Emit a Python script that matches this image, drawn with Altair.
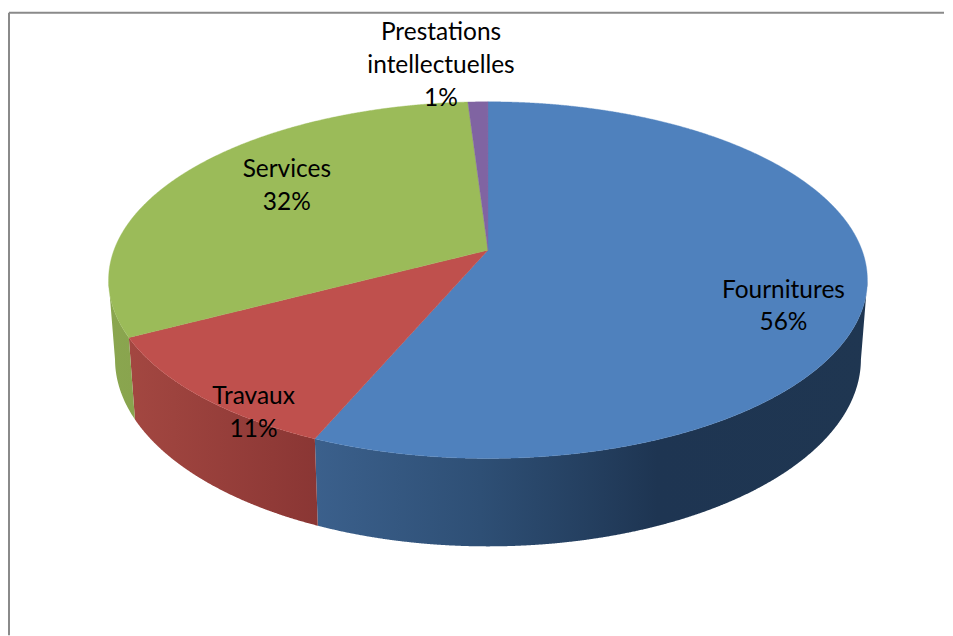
import math
import altair as alt
import pandas as pd

CATEGORIES = ["Fournitures", "Travaux", "Services", "Prestations\nintellectuelles"]
SHARES = [56.4, 10.9, 31.7, 1.0]
SHOWN = ["56%", "11%", "32%", "1%"]
TOP_COLOURS = ["#4f81bd", "#bf504d", "#9bbb59", "#8064a2"]
WALL_STOPS = [
    [(0, "#3b608c"), (0.3, "#2e4f75"), (0.62, "#1e3552"), (1, "#1f3651")],
    [(0, "#a34741"), (1, "#8a3634")],
    [(0, "#8aa64f"), (1, "#89a44e")],
]

# view geometry of the tilted pie (page pixels are used as the scale domain)
CX, CY, RX, RY, APEX, PERSP = 488, 280.5, 374.8, 178.8, -30.5, -0.168
BOTTOM_SX, BOTTOM_SY, BOTTOM_DY = 0.983, 1.05, 79.2
LABEL_R = [0.785, 0.83, 0.65, 1.0]
LABEL_DX = [0, 0, 0, -37]
LABEL_DY = [12.5, 29.5, -27.5, -68.5]
FRAME_LEFT, FRAME_TOP = 8, 12
VIEW_W, VIEW_H = 937, 628


def project(theta, bottom=False):
    u, v = math.sin(math.radians(theta)), -math.cos(math.radians(theta))
    w = 1 + PERSP * v
    x = RX * u / w
    y = (RY * v + APEX) / w
    if bottom:
        return CX + x * BOTTOM_SX, CY + y * BOTTOM_SY + BOTTOM_DY
    return CX + x, CY + y


def arc(a, b, bottom=False):
    n = max(2, int(abs(b - a) * 2))
    return [project(a + (b - a) * i / n, bottom=bottom) for i in range(n + 1)]


def scan(poly):
    """Turn a polygon into x / y / y2 rows for an area mark."""
    lo = min(p[0] for p in poly)
    hi = max(p[0] for p in poly)
    xs = sorted({p[0] for p in poly} | {lo + i for i in range(int(hi - lo) + 1)})
    rows = []
    for x in xs:
        ys = []
        for (x1, y1), (x2, y2) in zip(poly, poly[1:] + poly[:1]):
            if min(x1, x2) <= x <= max(x1, x2):
                if x1 == x2:
                    ys += [y1, y2]
                else:
                    ys.append(y1 + (y2 - y1) * (x - x1) / (x2 - x1))
        if ys:
            rows.append({"x": x, "y": min(ys), "y2": max(ys)})
    return rows


X = alt.X("x:Q", scale=alt.Scale(domain=[FRAME_LEFT, FRAME_LEFT + VIEW_W], nice=False, zero=False), axis=None)
Y = alt.Y("y:Q", scale=alt.Scale(domain=[FRAME_LEFT + VIEW_H, FRAME_LEFT], nice=False, zero=False), axis=None)

# cumulative slice limits, clockwise from 12 o'clock
edges = [0.0]
for s in SHARES:
    edges.append(edges[-1] + s * 3.6)

# the rim's extreme left/right sit where the projected y returns to the ellipse centre
t_side = math.degrees(math.acos(APEX / RY))  # clockwise angle of the widest point
wall_limits = [(t_side, edges[1]), (edges[1], edges[2]), (edges[2], 360 - t_side)]

layers = []
for (a, b), stops in zip(wall_limits, WALL_STOPS):
    poly = arc(a, b) + arc(b, a, bottom=True)
    grad = alt.Gradient(
        gradient="linear",
        stops=[alt.GradientStop(offset=o, color=c) for o, c in stops],
        x1=0, x2=1, y1=0, y2=0,
    )
    layers.append(
        alt.Chart(pd.DataFrame(scan(poly))).mark_area(fill=grad, interpolate="linear").encode(x=X, y=Y, y2="y2:Q")
    )

apex = (CX, CY + APEX)
for i, colour in enumerate(TOP_COLOURS):
    poly = [apex] + arc(edges[i], edges[i + 1])
    layers.append(
        alt.Chart(pd.DataFrame(scan(poly)))
        .mark_area(fill=colour, stroke=colour, strokeWidth=0.4, interpolate="linear")
        .encode(x=X, y=Y, y2="y2:Q")
    )

labels = []
for i, (cat, shown) in enumerate(zip(CATEGORIES, SHOWN)):
    mid = (edges[i] + edges[i + 1]) / 2
    u = LABEL_R[i] * math.sin(math.radians(mid))
    v = -LABEL_R[i] * math.cos(math.radians(mid))
    w = 1 + PERSP * v
    labels.append({
        "x": CX + RX * u / w + LABEL_DX[i],
        "y": CY + (RY * v + APEX) / w + LABEL_DY[i],
        "t": cat + "\n" + shown,
    })
layers.append(
    alt.Chart(pd.DataFrame(labels))
    .mark_text(font="Lato", fontSize=24.5, color="#000000", lineBreak="\n", lineHeight=33, align="center", baseline="middle")
    .encode(x=X, y=Y, text="t:N")
)

frame_top = pd.DataFrame({"x": [FRAME_LEFT], "x2": [FRAME_LEFT + VIEW_W], "y": [FRAME_TOP]})
frame_left = pd.DataFrame({"x": [FRAME_LEFT], "y": [FRAME_TOP], "y2": [FRAME_LEFT + VIEW_H]})
layers.append(alt.Chart(frame_top).mark_rule(color="#8a8a8a", strokeWidth=2).encode(x=X, x2="x2:Q", y=Y))
layers.append(alt.Chart(frame_left).mark_rule(color="#8a8a8a", strokeWidth=2).encode(x=X, y=Y, y2="y2:Q"))

chart = (
    alt.layer(*layers)
    .properties(width=VIEW_W, height=VIEW_H, padding=0, background="#ffffff")
    .configure_view(stroke=None)
)
chart.save("out.html", embed_options={"renderer": "svg", "actions": False})
